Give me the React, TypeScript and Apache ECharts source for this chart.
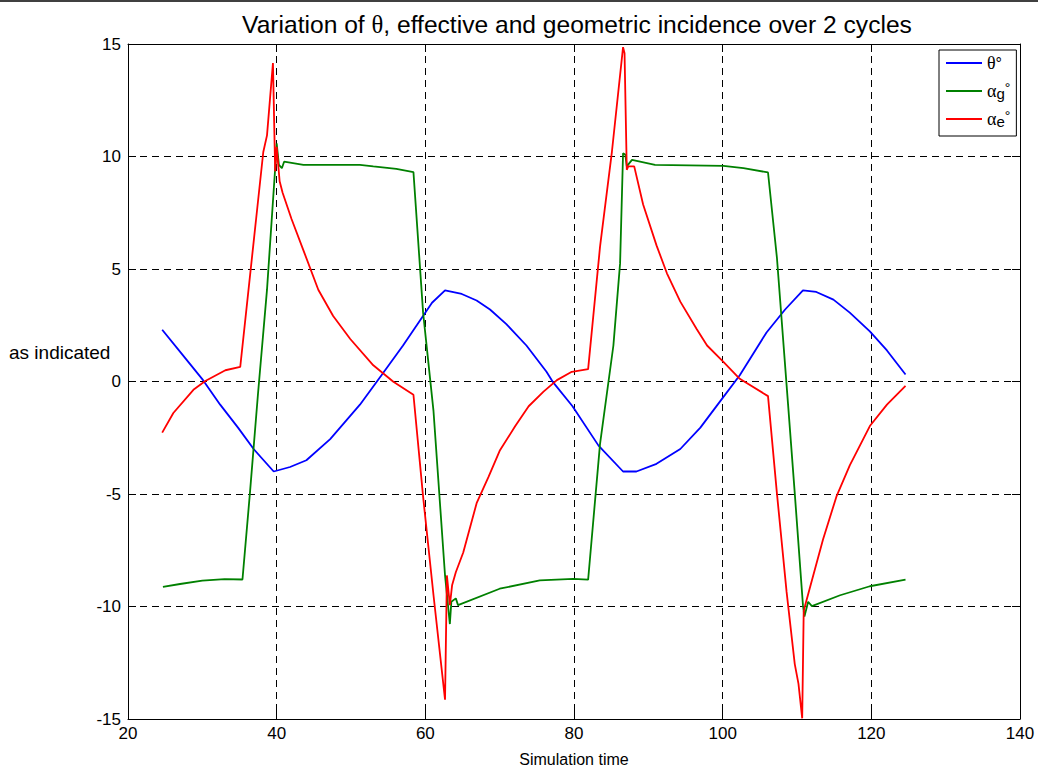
import React, { useEffect, useRef } from "react";
import * as echarts from "echarts";

const xTicks = [20, 40, 60, 80, 100, 120, 140];
const yTicks = [-15, -10, -5, 0, 5, 10, 15];

const thetaT = [24.6, 27.4, 30.1, 32.4, 34.8, 36.9, 39.6, 41.8, 44.0, 47.2, 51.2, 54.1, 57.0, 60.9, 62.65, 64.9, 66.9, 68.7, 70.9, 73.6, 76.3, 77.2, 79.8, 83.3, 86.6, 88.4, 91.1, 94.3, 97.0, 99.5, 102.3, 105.9, 108.4, 110.8, 112.6, 114.9, 117.1, 119.8, 122.1, 124.6];
const thetaV = [2.3, 1.16, 0.06, -1.03, -2.05, -3.0, -4.0, -3.8, -3.5, -2.56, -1.03, 0.28, 1.6, 3.5, 4.05, 3.89, 3.6, 3.2, 2.55, 1.6, 0.43, -0.04, -1.1, -2.85, -4.0, -4.0, -3.66, -3.0, -2.05, -0.95, 0.28, 2.18, 3.2, 4.05, 3.98, 3.64, 3.06, 2.23, 1.38, 0.31];

const alphaGT = [24.7, 27.0, 30.0, 33.0, 35.4, 36.4, 37.5, 38.7, 39.8, 40.0, 40.3, 40.7, 41.0, 43.6, 51.2, 53.0, 56.1, 58.4, 59.7, 61.1, 62.65, 63.3, 63.5, 64.1, 64.4, 70.0, 75.4, 79.9, 81.9, 83.5, 85.3, 86.2, 86.6, 86.9, 87.1, 87.8, 90.9, 100.1, 102.8, 106.1, 107.3, 108.8, 109.7, 110.8, 111.0, 111.5, 112.0, 115.8, 119.8, 124.6];
const alphaGV = [-9.13, -9.0, -8.85, -8.78, -8.8, -4.97, -0.5, 4.08, 9.48, 10.58, 9.63, 9.48, 9.77, 9.63, 9.63, 9.56, 9.45, 9.31, 3.06, -1.32, -8.62, -10.78, -9.79, -9.64, -9.94, -9.21, -8.84, -8.77, -8.81, -2.78, 1.6, 5.25, 10.14, 10.09, 9.56, 9.85, 9.63, 9.58, 9.48, 9.29, 5.5, -1.03, -4.97, -9.94, -10.45, -9.79, -9.98, -9.5, -9.1, -8.81];

const alphaET = [24.6, 26.1, 28.8, 30.4, 33.1, 35.1, 38.2, 38.7, 39.5, 39.8, 40.0, 40.4, 40.8, 42.0, 43.6, 45.6, 47.6, 49.9, 53.0, 55.7, 58.4, 59.7, 61.1, 62.65, 62.9, 63.3, 63.6, 64.1, 65.1, 66.9, 68.5, 70.0, 72.1, 73.9, 75.9, 77.7, 79.7, 81.9, 83.5, 85.1, 86.6, 86.8, 87.1, 87.3, 88.1, 89.3, 91.1, 92.5, 94.3, 96.5, 97.9, 100.1, 102.3, 106.1, 107.3, 108.6, 109.7, 110.2, 110.7, 110.9, 111.1, 111.7, 113.5, 115.3, 117.1, 119.8, 122.1, 124.6];
const alphaEV = [-2.27, -1.4, -0.37, 0.02, 0.5, 0.65, 10.2, 10.94, 14.15, 9.34, 10.43, 8.9, 8.39, 7.22, 5.83, 4.08, 2.91, 1.89, 0.72, -0.01, -0.59, -5.12, -9.5, -14.14, -8.62, -9.94, -9.06, -8.48, -7.6, -5.41, -4.24, -3.08, -1.98, -1.1, -0.45, 0.06, 0.43, 0.55, 5.98, 10.21, 14.86, 14.59, 9.41, 9.56, 9.56, 7.87, 6.05, 4.81, 3.55, 2.33, 1.6, 0.87, 0.12, -0.65, -4.97, -9.35, -12.56, -13.44, -14.97, -10.23, -9.94, -9.21, -7.02, -5.12, -3.73, -1.98, -1.03, -0.19];

const seriesNames = ["θ°", "αg°", "αe°"];
const seriesColors = ["#0000ff", "#008000", "#ff0000"];

const pair = (t: number[], v: number[]) => t.map((x, i) => [x, v[i]]);

const SANS = "'Liberation Sans', Arial, sans-serif";
const SERIF = "'Liberation Serif', 'Times New Roman', serif";

export default function App() {
  const ref = useRef<HTMLDivElement>(null);
  useEffect(() => {
    if (!ref.current) return;
    const chart = echarts.init(ref.current, undefined, { renderer: "svg" });
    const gridLine = { show: true, lineStyle: { color: "#000", width: 1, type: [7, 5] as any } };
    const axisLine = { show: true, onZero: false, lineStyle: { color: "#000", width: 1 } };
    const tick = { show: true, inside: true, length: 8, lineStyle: { color: "#000" } };
    const labelStyle = { color: "#000", fontSize: 17, fontFamily: SANS };
    chart.setOption({
      animation: false,
      backgroundColor: "#fff",
      title: {
        text: "{n|Variation of }{s|θ}{n|, effective and geometric incidence over 2 cycles}",
        left: 572,
        top: 7,
        textAlign: "center",
        textStyle: {
          fontWeight: "normal",
          rich: {
            n: { fontSize: 24.6, fontFamily: SANS, color: "#000", fontWeight: "normal" },
            s: { fontSize: 24.6, fontFamily: SERIF, color: "#000", fontWeight: "normal" },
          },
        },
      },
      legend: {
        orient: "vertical",
        left: 939,
        top: 50,
        padding: [3, 6, 7, 7],
        itemGap: 8,
        itemWidth: 36,
        itemHeight: 2,
        icon: "rect",
        borderColor: "#000",
        borderWidth: 1,
        backgroundColor: "#fff",
        data: seriesNames,
        formatter: (name: string) => {
          if (name === "θ°") return "{a|θ}{n|°}";
          if (name === "αg°") return "{a|α}{sub|g}{sup|°}";
          return "{a|α}{sub|e}{sup|°}";
        },
        textStyle: {
          color: "#000",
          width: 20,
          lineHeight: 20,
          rich: {
            a: { fontSize: 18, fontFamily: SERIF, color: "#000", lineHeight: 20 },
            n: { fontSize: 16, fontFamily: SANS, color: "#000", lineHeight: 20 },
            sub: { fontSize: 15, fontFamily: SANS, color: "#000", verticalAlign: "bottom", lineHeight: 8 },
            sup: { fontSize: 14, fontFamily: SANS, color: "#000", verticalAlign: "top", lineHeight: 10 },
          },
        },
      },
      grid: { left: 128, right: 18, top: 44, bottom: 43, containLabel: false },
      xAxis: [
        {
          type: "value",
          min: 20,
          max: 140,
          interval: 20,
          position: "bottom",
          name: "Simulation time",
          nameLocation: "middle",
          nameGap: 32,
          nameTextStyle: { color: "#000", fontSize: 16, fontFamily: SANS },
          axisLine,
          axisTick: tick,
          axisLabel: { ...labelStyle, margin: 6, formatter: (v: number) => (xTicks.includes(v) ? String(v) : "") },
          splitLine: gridLine,
        },
        {
          type: "value",
          min: 20,
          max: 140,
          interval: 20,
          position: "top",
          axisLine,
          axisTick: tick,
          axisLabel: { show: false },
          splitLine: { show: false },
        },
      ],
      yAxis: [
        {
          type: "value",
          min: -15,
          max: 15,
          interval: 5,
          position: "left",
          axisLine,
          axisTick: tick,
          axisLabel: { ...labelStyle, margin: 7, formatter: (v: number) => (yTicks.includes(v) ? String(v) : "") },
          splitLine: gridLine,
        },
        {
          type: "value",
          min: -15,
          max: 15,
          interval: 5,
          position: "right",
          axisLine,
          axisTick: tick,
          axisLabel: { show: false },
          splitLine: { show: false },
        },
      ],
      series: [
        { name: seriesNames[0], data: pair(thetaT, thetaV) },
        { name: seriesNames[1], data: pair(alphaGT, alphaGV) },
        { name: seriesNames[2], data: pair(alphaET, alphaEV) },
      ].map((s, i) => ({
        ...s,
        type: "line",
        xAxisIndex: 0,
        yAxisIndex: 0,
        showSymbol: false,
        symbol: "none",
        color: seriesColors[i],
        itemStyle: { color: seriesColors[i] },
        lineStyle: { color: seriesColors[i], width: 1.8 },
      })),
      graphic: [
        {
          type: "line",
          shape: { x1: 0, y1: 1, x2: 1038, y2: 1 },
          style: { stroke: "#000", lineWidth: 1.5 },
        },
        {
          type: "text",
          left: 9,
          top: 343,
          style: { text: "as indicated", fill: "#000", fontSize: 19, fontFamily: SANS },
        },
      ],
    });
    return () => chart.dispose();
  }, []);
  return (
    <div
      ref={ref}
      style={{ position: "fixed", left: 0, top: 0, width: 1038, height: 772, background: "#fff" }}
    />
  );
}
